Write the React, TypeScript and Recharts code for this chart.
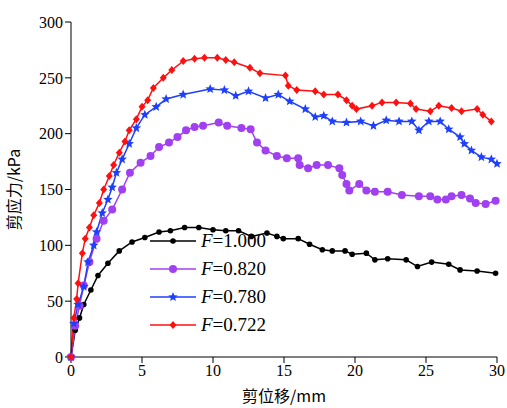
import { LineChart, Line, XAxis, YAxis } from 'recharts'

type P = { x: number; y: number }
const toPts = (xs: number[], ys: number[]): P[] => xs.map((x, i) => ({ x, y: ys[i] }))

// F=1.000
const blackX = [0, 0.3, 0.6, 0.9, 1.4, 1.9, 2.6, 3.4, 4.3, 5.2, 6.2, 7.0, 8.0, 9.0, 10.0, 10.9, 11.8, 12.7, 13.8, 14.5, 14.95, 16.0, 16.8, 17.7, 18.4, 19.3, 19.8, 20.8, 21.4, 22.3, 23.6, 24.4, 25.4, 26.6, 27.4, 28.6, 29.9]
const blackY = [0, 24, 35, 47, 60, 73, 84, 95, 103, 107, 112, 113, 116, 116, 114, 113, 113, 108, 111, 108, 106, 106, 101, 96, 95, 95, 92, 93, 87, 88, 87, 81, 85, 83, 78, 77, 75]
// F=0.820
const purpleX = [0, 0.3, 0.6, 0.9, 1.3, 1.8, 2.3, 2.9, 3.6, 4.15, 4.9, 5.6, 6.2, 6.9, 7.5, 8.1, 8.7, 9.3, 10.4, 11.0, 12.0, 12.65, 13.1, 13.7, 14.5, 15.2, 16.0, 16.1, 16.7, 17.3, 18.1, 18.9, 19.1, 19.4, 19.6, 20.3, 20.8, 21.4, 22.3, 23.3, 24.5, 25.3, 25.8, 26.4, 26.8, 27.5, 28.1, 28.5, 29.2, 29.9]
const purpleY = [0, 28, 46, 64, 85, 106, 122, 132, 150, 165, 174, 180, 188, 192, 197, 203, 206, 207, 210, 207, 205, 204, 192, 185, 180, 178, 178, 172, 169, 172, 172, 169, 163, 155, 149, 155, 149, 148, 148, 145, 144, 144, 141, 141, 144, 145, 142, 138, 137, 140]
// F=0.780
const blueX = [0, 0.2, 0.5, 0.9, 1.2, 1.6, 1.8, 2.2, 2.6, 2.9, 3.2, 3.6, 4.1, 4.6, 5.2, 6.0, 6.7, 7.9, 9.8, 10.8, 11.6, 12.5, 13.7, 14.6, 15.4, 16.5, 17.2, 17.8, 18.4, 19.4, 20.4, 21.3, 22.2, 23.1, 24.0, 24.5, 25.2, 26.0, 26.6, 27.4, 27.7, 28.2, 28.9, 29.6, 30]
const blueY = [0, 30, 47, 63, 85, 100, 112, 129, 141, 152, 165, 177, 191, 205, 217, 224, 231, 235, 240, 239, 234, 238, 232, 235, 229, 222, 215, 216, 211, 210, 211, 207, 212, 211, 211, 203, 211, 211, 204, 197, 191, 185, 179, 177, 173]
// F=0.722
const redX = [0, 0.2, 0.4, 0.5, 0.8, 1.0, 1.3, 1.6, 2.0, 2.3, 2.7, 3.0, 3.4, 3.8, 4.1, 4.6, 5.0, 5.4, 5.8, 6.5, 7.1, 7.9, 8.7, 9.4, 10.3, 10.9, 11.5, 12.6, 13.3, 15.1, 15.3, 15.9, 17.2, 17.8, 18.8, 19.4, 19.8, 20.1, 21.2, 21.9, 22.9, 23.9, 24.3, 25.3, 25.9, 26.8, 27.5, 28.6, 29.0, 29.6]
const redY = [0, 35, 52, 66, 93, 106, 116, 127, 138, 150, 162, 172, 183, 193, 203, 213, 224, 230, 241, 250, 257, 265, 267, 268, 268, 266, 264, 259, 254, 252, 243, 239, 238, 235, 235, 230, 225, 222, 225, 228, 228, 227, 222, 220, 225, 223, 220, 222, 217, 211]

const series = [
  { name: '1.000', color: '#000000', data: toPts(blackX, blackY), shape: 'dot' },
  { name: '0.820', color: '#a040f0', data: toPts(purpleX, purpleY), shape: 'circle' },
  { name: '0.780', color: '#1f3fff', data: toPts(blueX, blueY), shape: 'star' },
  { name: '0.722', color: '#ff1010', data: toPts(redX, redY), shape: 'diamond' },
]

const xTicks = [0, 5, 10, 15, 20, 25, 30]
const yTicks = [0, 50, 100, 150, 200, 250, 300]

function Marker({ cx, cy, shape, color }: { cx: number; cy: number; shape: string; color: string }) {
  if (cx == null || cy == null) return null
  if (shape === 'dot') return <circle cx={cx} cy={cy} r={2.8} fill={color} />
  if (shape === 'circle') return <circle cx={cx} cy={cy} r={4} fill={color} />
  if (shape === 'diamond')
    return <polygon points={`${cx},${cy - 4} ${cx + 3.5},${cy} ${cx},${cy + 4} ${cx - 3.5},${cy}`} fill={color} />
  const pts: string[] = []
  for (let i = 0; i < 10; i++) {
    const r = i % 2 === 0 ? 5 : 2.2
    const a = (Math.PI / 5) * i - Math.PI / 2
    pts.push(`${cx + r * Math.cos(a)},${cy + r * Math.sin(a)}`)
  }
  return <polygon points={pts.join(' ')} fill={color} />
}

function LegendBox() {
  return (
    <div style={{ position: 'absolute', left: 150, top: 227, fontFamily: 'Liberation Serif', fontSize: 19 }}>
      {series.map((s) => (
        <div key={s.name} style={{ display: 'flex', alignItems: 'center', height: 28 }}>
          <svg width={46} height={12}>
            <line x1={0} y1={6} x2={46} y2={6} stroke={s.color} strokeWidth={1.5} />
            <Marker cx={23} cy={6} shape={s.shape} color={s.color} />
          </svg>
          <span style={{ marginLeft: 5 }}>
            <i>F</i>={s.name}
          </span>
        </div>
      ))}
    </div>
  )
}

export default function App() {
  return (
    <div style={{ position: 'absolute', left: 0, top: 0, width: 507, height: 408, background: '#fff' }}>
      <LineChart width={507} height={408} margin={{ top: 22, right: 10, left: 0, bottom: 0 }}>
        <XAxis
          type="number"
          dataKey="x"
          domain={[0, 30]}
          ticks={xTicks}
          height={51}
          stroke="#000"
          tick={{ fill: '#000', fontSize: 16, fontFamily: 'Liberation Serif' }}
          label={{ value: '剪位移/mm', position: 'insideBottom', offset: 6, fill: '#000', fontSize: 16, fontFamily: 'Noto Sans CJK SC' }}
        />
        <YAxis
          type="number"
          domain={[0, 300]}
          ticks={yTicks}
          width={71}
          stroke="#000"
          tick={{ fill: '#000', fontSize: 16, fontFamily: 'Liberation Serif' }}
          label={{ value: '剪应力/kPa', angle: -90, position: 'insideLeft', offset: 14, style: { textAnchor: 'middle' }, fill: '#000', fontSize: 16, fontFamily: 'Noto Sans CJK SC' }}
        />
        {series.map((s) => (
          <Line
            key={s.name}
            data={s.data}
            dataKey="y"
            name={s.name}
            stroke={s.color}
            strokeWidth={1.5}
            isAnimationActive={false}
            dot={(p: any) => <Marker key={`${s.name}-${p.index}`} cx={p.cx} cy={p.cy} shape={s.shape} color={s.color} />}
            activeDot={false}
          />
        ))}
      </LineChart>
      <LegendBox />
    </div>
  )
}
